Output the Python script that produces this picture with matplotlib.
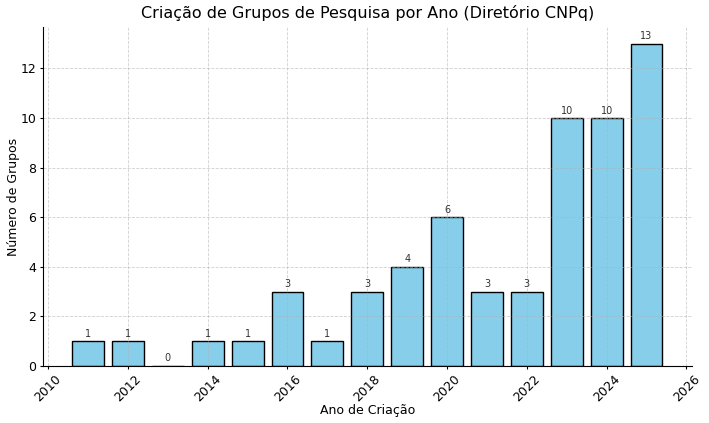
import matplotlib.pyplot as plt

anos = [2011, 2012, 2013, 2014, 2015, 2016, 2017, 2018, 2019, 2020, 2021, 2022, 2023, 2024, 2025]
grupos = [1, 1, 0, 1, 1, 3, 1, 3, 4, 6, 3, 3, 10, 10, 13]

fig, ax = plt.subplots(figsize=(7.09, 4.23), dpi=100)
bars = ax.bar(anos, grupos, color='skyblue', edgecolor='black')
for b, v in zip(bars, grupos):
    ax.text(b.get_x() + b.get_width() / 2, v + 0.1, str(v), ha='center', va='bottom', fontsize=7, color='#333333')

ax.set_title('Criação de Grupos de Pesquisa por Ano (Diretório CNPq)', fontsize=11.5, pad=7)
ax.set_xlabel('Ano de Criação', fontsize=9, labelpad=0)
ax.set_ylabel('Número de Grupos', fontsize=9, labelpad=0)
ax.tick_params(labelsize=9, length=2.5, pad=2)
ax.grid(True, linestyle='--', linewidth=0.6, alpha=0.6)
ax.spines['top'].set_visible(False)
ax.spines['right'].set_visible(False)
plt.xticks(rotation=45)
plt.subplots_adjust(left=0.06, right=0.976, top=0.935, bottom=0.135)
plt.savefig('out.png')
